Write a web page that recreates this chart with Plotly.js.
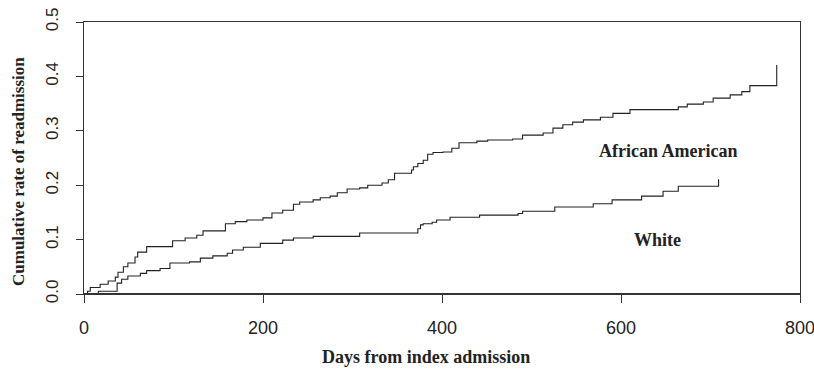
<!DOCTYPE html>
<html>
<head>
<meta charset="utf-8">
<script src="https://cdn.plot.ly/plotly-3.0.1.min.js"></script>
<style>html,body{margin:0;padding:0;background:#fff;}#chart{width:814px;height:370px;}</style>
</head>
<body>
<div id="chart"></div>
<script>
// African American cumulative readmission (step function)
var aaDays = [0, 4, 7, 18, 27, 35, 38, 44, 49, 57, 60, 70, 99, 113, 126, 133, 158, 169, 182, 200, 210, 222, 234, 241, 256, 264, 275, 283, 294, 308, 317, 333, 340, 347, 366, 368, 373, 379, 384, 390, 401, 411, 419, 439, 451, 479, 490, 513, 524, 535, 546, 558, 577, 591, 610, 664, 674, 692, 703, 722, 735, 744, 774];
var aaRate = [0, 0.005, 0.012, 0.018, 0.024, 0.031, 0.040, 0.050, 0.057, 0.068, 0.077, 0.087, 0.098, 0.103, 0.108, 0.116, 0.129, 0.133, 0.136, 0.140, 0.149, 0.154, 0.165, 0.169, 0.173, 0.177, 0.180, 0.186, 0.193, 0.195, 0.200, 0.204, 0.210, 0.222, 0.228, 0.234, 0.240, 0.246, 0.257, 0.260, 0.261, 0.268, 0.278, 0.281, 0.283, 0.285, 0.292, 0.296, 0.305, 0.311, 0.316, 0.320, 0.325, 0.332, 0.339, 0.344, 0.349, 0.353, 0.360, 0.366, 0.372, 0.383, 0.421];

// White cumulative readmission (step function)
var whDays = [0, 16, 37, 42, 49, 63, 70, 85, 96, 118, 130, 144, 160, 166, 178, 197, 222, 234, 256, 308, 373, 376, 379, 389, 394, 409, 442, 485, 490, 526, 569, 590, 623, 647, 664, 709];
var whRate = [0, 0.005, 0.020, 0.027, 0.033, 0.038, 0.043, 0.047, 0.057, 0.059, 0.066, 0.070, 0.075, 0.081, 0.086, 0.093, 0.099, 0.103, 0.106, 0.112, 0.120, 0.127, 0.129, 0.132, 0.136, 0.141, 0.145, 0.148, 0.152, 0.160, 0.166, 0.173, 0.180, 0.189, 0.198, 0.211];

var xTicks = [0, 200, 400, 600, 800];
var yTicks = [0, 0.1, 0.2, 0.3, 0.4, 0.5];
var yTickText = ["0.0", "0.1", "0.2", "0.3", "0.4", "0.5"];

var serif = "Liberation Serif, Times New Roman, serif";
var lineCol = "#222";

var traces = [
  {x: aaDays, y: aaRate, mode: "lines", line: {shape: "hv", color: lineCol, width: 1.1}, hoverinfo: "skip"},
  {x: whDays, y: whRate, mode: "lines", line: {shape: "hv", color: lineCol, width: 1.1}, hoverinfo: "skip"}
];

var layout = {
  width: 814, height: 370,
  margin: {l: 84, r: 14, t: 22, b: 76},
  paper_bgcolor: "#fff", plot_bgcolor: "#fff",
  showlegend: false,
  xaxis: {
    range: [0, 800], tickvals: xTicks, ticktext: xTicks.map(String),
    showgrid: false, zeroline: false, showline: true, mirror: true,
    linecolor: "#333", linewidth: 1,
    ticks: "outside", ticklen: 8, tickcolor: "#333", tickwidth: 1,
    ticklabelstandoff: 9, ticklabeloverflow: "allow",
    tickfont: {family: "Liberation Sans, Arial, sans-serif", size: 18, color: "#222"}
  },
  yaxis: {
    range: [0, 0.5], tickvals: yTicks, ticktext: yTickText,
    showgrid: false, zeroline: false, showline: true, mirror: true,
    linecolor: "#333", linewidth: 1,
    ticks: "outside", ticklen: 7, tickcolor: "#333", tickwidth: 1,
    tickangle: -90, ticklabelstandoff: 11, ticklabeloverflow: "allow",
    tickfont: {family: "Liberation Sans, Arial, sans-serif", size: 17, color: "#222"}
  },
  shapes: [
    {type: "line", xref: "paper", yref: "y", x0: 0, x1: 1, y0: 0, y1: 0, line: {color: "#333", width: 2}}
  ],
  annotations: [
    {text: "<b>African American</b>", xref: "paper", yref: "paper", x: (668 - 84) / 716, y: (294 - 151) / 272, showarrow: false, xanchor: "center", yanchor: "middle", font: {family: serif, size: 18, color: "#222"}},
    {text: "<b>White</b>", xref: "paper", yref: "paper", x: (657 - 84) / 716, y: (294 - 240) / 272, showarrow: false, xanchor: "center", yanchor: "middle", font: {family: serif, size: 18, color: "#222"}},
    {text: "<b>Days from index admission</b>", xref: "paper", yref: "paper", x: (426 - 84) / 716, y: (294 - 357) / 272, showarrow: false, xanchor: "center", yanchor: "middle", font: {family: serif, size: 18, color: "#222"}},
    {text: "<b>Cumulative rate of readmission</b>", xref: "paper", yref: "paper", x: (18 - 84) / 716, y: (294 - 172) / 272, textangle: -90, showarrow: false, xanchor: "center", yanchor: "middle", font: {family: serif, size: 17, color: "#222"}}
  ]
};

Plotly.newPlot("chart", traces, layout, {displayModeBar: false, staticPlot: true});
</script>
</body>
</html>
